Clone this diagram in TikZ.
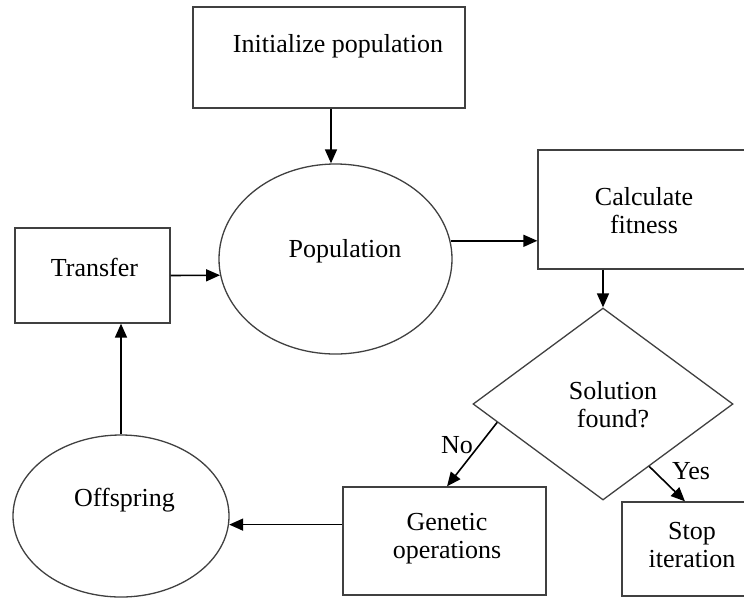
\documentclass[tikz,border=0pt]{standalone}
\usepackage{fontspec}
\setmainfont{Liberation Serif}
\usetikzlibrary{shapes.geometric,arrows.meta,calc}
\definecolor{edgegray}{HTML}{404040}
\begin{document}
\begin{tikzpicture}[x=1pt,y=-1pt,
  shapebox/.style={draw=edgegray,line width=1.3pt,rectangle,inner sep=0pt,minimum width=#1},
  oval/.style={draw=edgegray,line width=1.3pt,ellipse,inner sep=0pt},
  rhomb/.style={draw=edgegray,line width=1.3pt,diamond,inner sep=0pt},
  lbl/.style={font=\fontsize{26}{28}\selectfont,align=center,inner sep=0pt},
  arr/.style={draw=black,line width=1.6pt,-{Triangle[length=14pt,width=12pt]}}]
\useasboundingbox (0,0) rectangle (744,598);
% shapes
\node[shapebox=272pt,minimum height=101pt] (init) at (329,57.5) {};
\node[oval,minimum width=233pt,minimum height=190pt] (pop) at (335.5,259) {};
\node[shapebox=212pt,minimum height=119pt] (fit) at (644,209.5) {};
\node[shapebox=155pt,minimum height=95pt] (tr) at (92.5,275.5) {};
\node[rhomb,minimum width=260pt,minimum height=192pt] (dia) at (603,404) {};
\node[shapebox=203pt,minimum height=108pt] (gen) at (444.5,541) {};
\node[shapebox=138pt,minimum height=94pt] (stop) at (691,549) {};
\node[oval,minimum width=216pt,minimum height=162pt] (off) at (121,516) {};
% texts
\node[lbl] (initT) at (338,46) {Initialize population};
\node[lbl] (popT) at (345,251) {Population};
\node[lbl] (fitT) at (644,210.5) {Calculate\\fitness};
\node[lbl] (trT) at (94.5,267.5) {Transfer};
\node[lbl] (diaT) at (613,405) {Solution\\found?};
\node[lbl] (genT) at (447,539) {Genetic\\operations};
\node[lbl] (stopT) at (692,545.5) {Stop\\iteration};
\node[lbl] (offT) at (124.5,500) {Offspring};
\node[lbl] (noT) at (457,445) {No};
\node[lbl] (yesT) at (691,471.5) {Yes};
% connectors
\draw[arr] ($(init.south)+(2,0)$) -- ($(init.south |- pop.north)+(2,0)$);
\draw[arr] (pop.9.5) -- (pop.9.5 -| fit.west);
\draw[arr] (fit.south -| dia.north) -- (dia.north);
\draw[arr] (tr.east) -- (pop.188.5);
\draw[arr] (off.north) -- (off.north |- tr.south);
\coordinate (genout) at ($(gen.north west)!0.35!(gen.south west)$);
\draw[arr] (genout) -- (genout -| off.-4.8);
\draw[arr] ($(dia.west)!0.19!(dia.south)$) -- ($(gen.north)+(2.5,0)$);
\draw[arr] ($(dia.south)!0.354!(dia.east)$) -- ($(stop.north)+(-6,0)$);
\end{tikzpicture}
\end{document}
